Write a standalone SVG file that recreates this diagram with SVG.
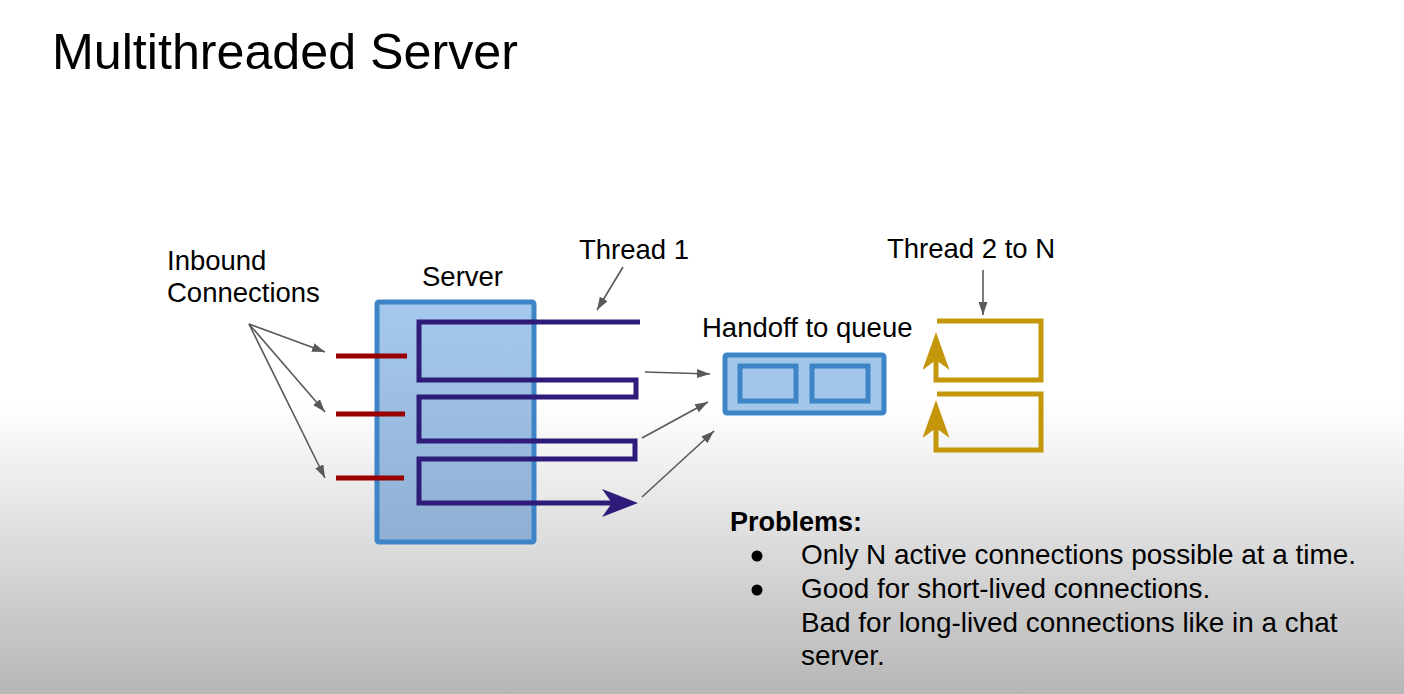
<svg xmlns="http://www.w3.org/2000/svg" width="1404" height="694" viewBox="0 0 1404 694">
  <style>
    .t { font-family: "Liberation Sans", Arial, sans-serif; fill: #000; }
    .lbl { font-size: 27.5px; }
    .body { font-size: 27.9px; }
    .conn { stroke: #595959; stroke-width: 1.6; fill: none; }
    .box { stroke: #3d85c6; stroke-width: 5; }
    .inbox { stroke: #3d85c6; stroke-width: 5; fill: #a2c6ea; }
    .red { stroke: #990000; stroke-width: 5; }
    .thread { stroke: #2f1b79; stroke-width: 5; fill: none; stroke-linejoin: miter; }
    .worker { stroke: #c4960a; stroke-width: 5; fill: none; stroke-linejoin: miter; }
  </style>
  <defs>
    <linearGradient id="bg" gradientUnits="userSpaceOnUse" x1="0" y1="405" x2="0" y2="694">
      <stop offset="0" stop-color="#ffffff"/>
      <stop offset="1" stop-color="#b6b6b6"/>
    </linearGradient>
    <linearGradient id="srvFill" x1="0" y1="0" x2="0" y2="1">
      <stop offset="0" stop-color="#a5c9ed"/>
      <stop offset="1" stop-color="#8fb0d3"/>
    </linearGradient>
    <marker id="gray" markerUnits="userSpaceOnUse" markerWidth="14" markerHeight="10" refX="13" refY="4.5" orient="auto">
      <path d="M0,0 L13,4.5 L0,9 z" fill="#595959"/>
    </marker>
    <marker id="purple" markerUnits="userSpaceOnUse" markerWidth="38" markerHeight="30" refX="10" refY="14" orient="auto">
      <path d="M0,0 L36,14 L0,28 L10,14 z" fill="#2f1b79"/>
    </marker>
    <marker id="gold" markerUnits="userSpaceOnUse" markerWidth="40" markerHeight="30" refX="10" refY="13.5" orient="auto">
      <path d="M0,0 L38,13.5 L0,27 L10,13.5 z" fill="#c4960a"/>
    </marker>
  </defs>

  <rect x="0" y="0" width="1404" height="694" fill="url(#bg)"/>

  <g id="title">
    <text class="t" x="52" y="69" font-size="50.2">Multithreaded Server</text>
  </g>

  <g id="inbound-label">
    <text class="t lbl" x="167" y="270">Inbound</text>
    <text class="t lbl" x="167" y="302">Connections</text>
  </g>

  <g id="server">
    <rect x="377" y="302" width="157" height="240" rx="2" fill="url(#srvFill)" class="box"/>
    <text class="t lbl" x="422" y="286">Server</text>
  </g>

  <g id="inbound-connections">
    <line x1="336" y1="356" x2="407" y2="356" class="red"/>
    <line x1="336" y1="414" x2="405" y2="414" class="red"/>
    <line x1="336" y1="478" x2="404" y2="478" class="red"/>
  </g>

  <g id="thread1">
    <path class="thread" marker-end="url(#purple)" d="M640,322 L419,322 L419,380 L636,380 L636,397 L419,397 L419,441 L635,441 L635,459 L419,459 L419,503 L612,503"/>
    <text class="t lbl" x="579" y="259">Thread 1</text>
  </g>

  <g id="queue">
    <rect x="725" y="355" width="159" height="58" rx="2" fill="#a2c6ea" class="box"/>
    <rect x="740" y="366" width="56" height="35" class="inbox"/>
    <rect x="812" y="366" width="56" height="35" class="inbox"/>
    <text class="t lbl" x="702" y="337">Handoff to queue</text>
  </g>

  <g id="worker-threads">
    <path class="worker" marker-end="url(#gold)" d="M937,321 L1041,321 L1041,380 L936,380 L936,360"/>
    <path class="worker" marker-end="url(#gold)" d="M937,394 L1041,394 L1041,450 L936,450 L936,428"/>
    <text class="t lbl" x="887" y="258">Thread 2 to N</text>
  </g>

  <g id="connectors">
    <line class="conn" marker-end="url(#gray)" x1="249" y1="324" x2="325" y2="352"/>
    <line class="conn" marker-end="url(#gray)" x1="249" y1="324" x2="325" y2="412"/>
    <line class="conn" marker-end="url(#gray)" x1="249" y1="324" x2="325" y2="478"/>
    <line class="conn" marker-end="url(#gray)" x1="623" y1="267" x2="597" y2="310"/>
    <line class="conn" marker-end="url(#gray)" x1="983" y1="270" x2="983" y2="315"/>
    <line class="conn" marker-end="url(#gray)" x1="645" y1="372" x2="710" y2="374"/>
    <line class="conn" marker-end="url(#gray)" x1="642" y1="438" x2="708" y2="402"/>
    <line class="conn" marker-end="url(#gray)" x1="642" y1="497" x2="714" y2="431"/>
  </g>

  <g id="problems">
    <text class="t" x="730" y="531" font-size="27" font-weight="bold">Problems:</text>
    <circle cx="757" cy="556" r="5.5" fill="#000"/>
    <circle cx="757" cy="590" r="5.5" fill="#000"/>
    <text class="t body" x="801" y="564">Only N active connections possible at a time.</text>
    <text class="t body" x="801" y="598">Good for short-lived connections.</text>
    <text class="t body" x="801" y="632">Bad for long-lived connections like in a chat</text>
    <text class="t body" x="801" y="665">server.</text>
  </g>
</svg>
